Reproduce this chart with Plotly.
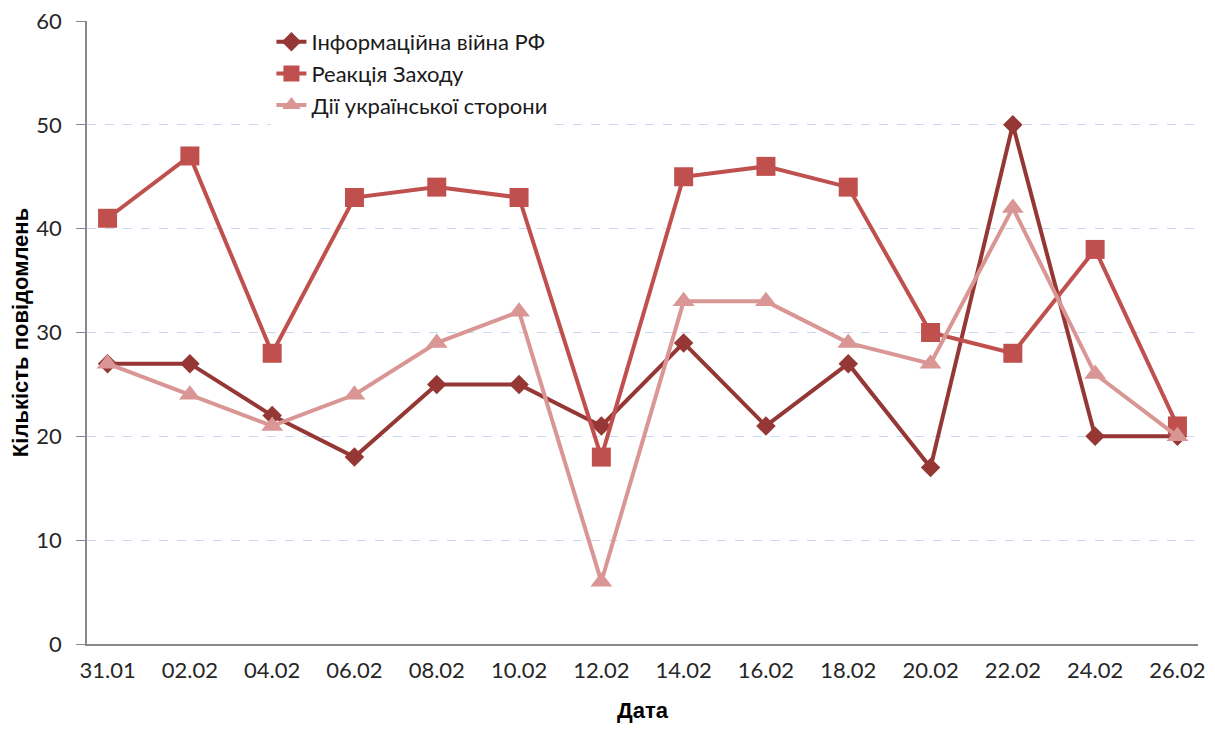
import plotly.graph_objects as go

dates = ["31.01", "02.02", "04.02", "06.02", "08.02", "10.02", "12.02",
         "14.02", "16.02", "18.02", "20.02", "22.02", "24.02", "26.02"]
info_war = [27, 27, 22, 18, 25, 25, 21, 29, 21, 27, 17, 50, 20, 20]
west_reaction = [41, 47, 28, 43, 44, 43, 18, 45, 46, 44, 30, 28, 38, 21]
ukraine_actions = [27, 24, 21, 24, 29, 32, 6, 33, 33, 29, 27, 42, 26, 20]

font_family = "Lato, Open Sans, sans-serif"
title_font = dict(family="Liberation Sans, Arial, sans-serif", size=22, color="black")

fig = go.Figure()

# three series, Excel-style line + markers
fig.add_trace(go.Scatter(
    x=dates, y=info_war, name="Інформаційна війна РФ", mode="lines+markers",
    line=dict(color="#953735", width=4),
    marker=dict(symbol="diamond", size=15, color="#953735"),
))
fig.add_trace(go.Scatter(
    x=dates, y=west_reaction, name="Реакція Заходу", mode="lines+markers",
    line=dict(color="#C0504D", width=4),
    marker=dict(symbol="square", size=19, color="#C0504D"),
))
fig.add_trace(go.Scatter(
    x=dates, y=ukraine_actions, name="Дії української сторони", mode="lines+markers",
    line=dict(color="#D99694", width=4),
    marker=dict(symbol="triangle-up", size=19, color="#D99694"),
))

# the page body adds an 8px margin, so the figure is sized to sit inside it
fig.update_layout(
    width=1199, height=715,
    paper_bgcolor="white", plot_bgcolor="white",
    margin=dict(l=79, r=9, t=13, b=79),
    font=dict(family=font_family, size=22, color="#262626"),
    showlegend=True,
    legend=dict(
        x=0.166, y=1.0, xanchor="left", yanchor="top",
        bgcolor="rgba(255,255,255,1)", font=dict(size=22, color="#1a1a1a"),
        tracegroupgap=0,
    ),
)

fig.update_xaxes(
    type="category", range=[-0.25, 13.25], automargin=False,
    showline=True, linecolor="#888888", linewidth=1.5,
    showgrid=False, ticks="", ticklabelstandoff=6,
    title=dict(text="<b>Дата</b>", font=title_font, standoff=25),
)
fig.update_yaxes(
    range=[0, 60], dtick=10, automargin=False, ticklabeloverflow="allow",
    showline=True, linecolor="#888888", linewidth=1.5,
    ticks="outside", ticklen=9, tickcolor="#888888", ticklabelstandoff=10,
    showgrid=True, gridcolor="#C6D9F1", griddash="dash", gridwidth=1,
    zeroline=False,
    title=dict(text="<b>Кількість повідомлень</b>", font=title_font, standoff=16),
)

fig.write_html("out.html")
